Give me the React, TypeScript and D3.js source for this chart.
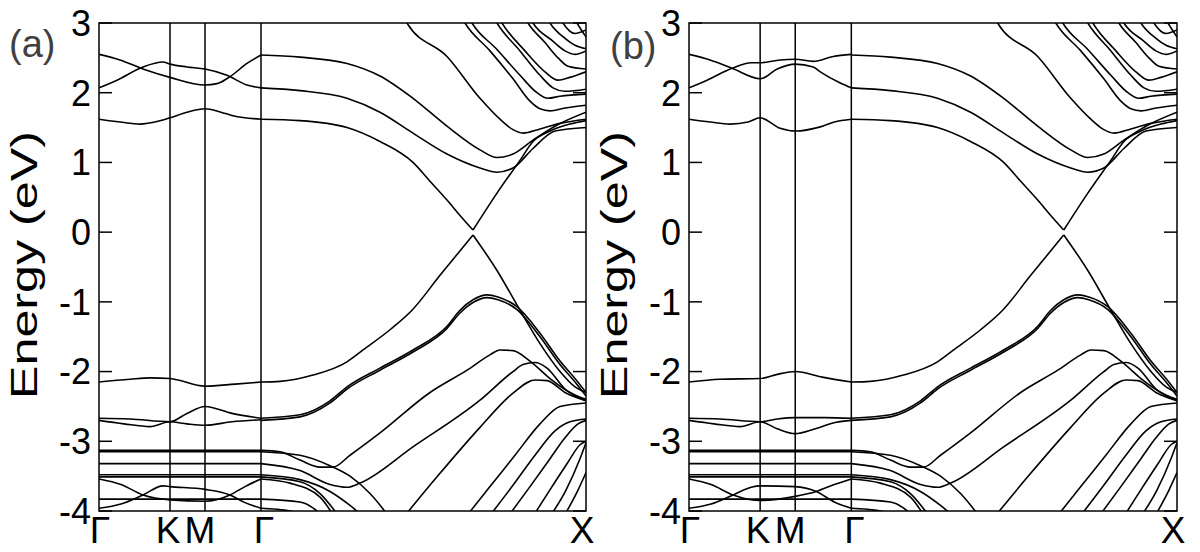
import React from "react";
import * as d3 from "d3";

type Pt = [number, number];

// high-symmetry points along the k-path (Γ-K-M-Γ-X)
const kTicks = [0, 0.71, 1.06, 1.62, 4.87];
const kLabels = ["Γ", "K", "M", "Γ", "X"];
const kLabelShift = [1, -2, -5, 3, -4];
const eTicks = [-4, -3, -2, -1, 0, 1, 2, 3];

// ---- Γ-K-M-Γ segment, panel (a)
const hexA: Pt[][] = [
  [[0, 1.62], [0.21, 1.58], [0.41, 1.55], [0.59, 1.59], [0.71, 1.64], [0.88, 1.72], [1.06, 1.77], [1.22, 1.72], [1.34, 1.67], [1.62, 1.62]],
  [[0, 2.55], [0.21, 2.47], [0.44, 2.34], [0.71, 2.22], [1.06, 2.11], [1.18, 2.13], [1.31, 2.23], [1.48, 2.42], [1.62, 2.54]],
  [[0, 2.07], [0.18, 2.18], [0.44, 2.37], [0.64, 2.44], [0.71, 2.41], [0.88, 2.37], [1.06, 2.34], [1.28, 2.25], [1.48, 2.11], [1.62, 2.07]],
  [[0, -2.15], [0.31, -2.11], [0.51, -2.09], [0.71, -2.1], [1.06, -2.21], [1.36, -2.18], [1.62, -2.15]],
  [[0, -2.67], [0.31, -2.68], [0.71, -2.72], [0.88, -2.6], [1.06, -2.5], [1.33, -2.6], [1.62, -2.67]],
  [[0, -2.7], [0.25, -2.75], [0.51, -2.79], [0.71, -2.72], [0.88, -2.75], [1.06, -2.77], [1.33, -2.72], [1.62, -2.69]],
  [[0, -3.54], [0.22, -3.62], [0.44, -3.77], [0.71, -3.84], [1.06, -3.86], [1.31, -3.77], [1.46, -3.65], [1.62, -3.54]],
  [[0, -3.96], [0.22, -3.9], [0.44, -3.77], [0.64, -3.64], [0.71, -3.65], [1.06, -3.69], [1.31, -3.77], [1.46, -3.88], [1.62, -3.96]],
];

// ---- Γ-K-M-Γ segment, panel (b)
const hexB: Pt[][] = [
  [[0, 1.62], [0.21, 1.58], [0.41, 1.55], [0.59, 1.58], [0.71, 1.64], [0.91, 1.49], [1.06, 1.45], [1.31, 1.51], [1.45, 1.58], [1.62, 1.62]],
  [[0, 2.55], [0.21, 2.47], [0.43, 2.35], [0.71, 2.2], [0.88, 2.34], [1.06, 2.41], [1.24, 2.37], [1.31, 2.3], [1.51, 2.14], [1.62, 2.07]],
  [[0, 2.07], [0.18, 2.18], [0.43, 2.35], [0.62, 2.43], [0.71, 2.43], [0.91, 2.47], [1.06, 2.48], [1.24, 2.45], [1.44, 2.52], [1.62, 2.55]],
  [[0, -2.15], [0.31, -2.11], [0.71, -2.1], [0.88, -2.04], [1.06, -2.0], [1.33, -2.08], [1.62, -2.15]],
  [[0, -2.67], [0.31, -2.68], [0.71, -2.72], [0.88, -2.68], [1.06, -2.66], [1.36, -2.66], [1.62, -2.67]],
  [[0, -2.7], [0.25, -2.75], [0.51, -2.79], [0.71, -2.72], [0.88, -2.82], [1.06, -2.89], [1.26, -2.82], [1.46, -2.73], [1.62, -2.7]],
  [[0, -3.54], [0.22, -3.62], [0.44, -3.77], [0.71, -3.85], [1.06, -3.79], [1.27, -3.72], [1.45, -3.62], [1.62, -3.54]],
  [[0, -3.96], [0.22, -3.9], [0.44, -3.77], [0.62, -3.66], [0.71, -3.64], [1.06, -3.65], [1.27, -3.72], [1.45, -3.87], [1.62, -3.96]],
];

// flat bands along Γ-K-M-Γ (both panels)
const flatBands = [-3.13, -3.15, -3.32, -3.48, -3.51, -3.83];

// ---- Γ-X segment (both panels)
const gxConduction: Pt[][] = [
  [[1.62, 1.62], [2.01, 1.6], [2.48, 1.5], [2.81, 1.3], [3.14, 1.0], [3.31, 0.73], [3.48, 0.46], [3.61, 0.24], [3.74, 0.03]],
  [[3.74, 0.03], [3.98, 0.56], [4.21, 1.03], [4.34, 1.3], [4.51, 1.45], [4.71, 1.55], [4.87, 1.6]],
  [[1.62, 2.07], [2.01, 2.03], [2.48, 1.92], [2.81, 1.72], [3.14, 1.42], [3.48, 1.12], [3.81, 0.92], [3.98, 0.86], [4.14, 0.92], [4.34, 1.2], [4.56, 1.45], [4.87, 1.5]],
  [[1.62, 2.54], [2.01, 2.51], [2.48, 2.42], [2.81, 2.24], [3.14, 1.92], [3.48, 1.52], [3.81, 1.18], [3.98, 1.07], [4.14, 1.12], [4.34, 1.32], [4.56, 1.52], [4.87, 1.72]],
  [[3.04, 3.1], [3.08, 3.0], [3.48, 2.52], [3.81, 1.92], [4.01, 1.62], [4.14, 1.47], [4.24, 1.42], [4.41, 1.48], [4.61, 1.56], [4.87, 1.62]],
  [[3.62, 3.1], [3.66, 3.0], [3.91, 2.6], [4.14, 2.2], [4.31, 1.88], [4.41, 1.77], [4.51, 1.74], [4.66, 1.78], [4.87, 1.82]],
  [[3.69, 3.1], [3.73, 3.0], [3.98, 2.62], [4.21, 2.25], [4.38, 2.0], [4.49, 1.92], [4.61, 1.95], [4.87, 1.98]],
  [[3.94, 3.1], [3.98, 3.0], [4.21, 2.6], [4.41, 2.25], [4.54, 2.07], [4.66, 2.02], [4.87, 2.05]],
  [[3.99, 3.1], [4.03, 3.0], [4.26, 2.6], [4.46, 2.3], [4.59, 2.18], [4.71, 2.22], [4.87, 2.3]],
  [[4.25, 3.1], [4.29, 3.0], [4.46, 2.72], [4.59, 2.5], [4.69, 2.38], [4.87, 2.34]],
  [[4.3, 3.1], [4.34, 3.0], [4.53, 2.75], [4.66, 2.6], [4.76, 2.55], [4.87, 2.6]],
  [[4.47, 3.1], [4.51, 3.0], [4.66, 2.78], [4.76, 2.68], [4.87, 2.63]],
  [[4.6, 3.1], [4.64, 3.0], [4.76, 2.85], [4.87, 2.9]],
  [[4.74, 3.1], [4.78, 3.0], [4.87, 2.8]],
];

const gxValence: Pt[][] = [
  [[1.62, -2.15], [1.81, -2.14], [2.14, -2.05], [2.48, -1.86], [2.64, -1.69], [2.91, -1.4], [3.13, -1.12], [3.41, -0.62], [3.74, -0.04]],
  [[3.74, -0.04], [3.98, -0.55], [4.21, -1.12], [4.41, -1.6], [4.61, -2.0], [4.76, -2.22], [4.87, -2.3]],
  [[1.62, -2.67], [2.01, -2.62], [2.31, -2.42], [2.48, -2.22], [2.81, -1.95], [3.14, -1.69], [3.48, -1.35], [3.61, -1.12], [3.74, -0.97], [3.88, -0.9], [3.99, -0.93], [4.18, -1.07], [4.41, -1.45], [4.61, -1.85], [4.76, -2.1], [4.87, -2.3]],
  [[1.62, -2.7], [2.01, -2.65], [2.31, -2.45], [2.48, -2.25], [2.81, -1.98], [3.14, -1.72], [3.48, -1.38], [3.61, -1.16], [3.74, -1.01], [3.88, -0.94], [3.99, -0.97], [4.18, -1.11], [4.41, -1.5], [4.61, -1.9], [4.76, -2.15], [4.87, -2.35]],
  [[1.62, -3.13], [1.81, -3.15], [2.01, -3.27], [2.21, -3.37], [2.34, -3.37], [2.51, -3.2], [2.81, -2.88], [3.31, -2.3], [3.68, -1.98], [3.91, -1.76], [4.01, -1.69], [4.14, -1.7], [4.31, -1.85], [4.51, -2.1], [4.71, -2.3], [4.87, -2.4]],
  [[1.62, -3.32], [2.01, -3.42], [2.31, -3.62], [2.48, -3.66], [2.61, -3.6], [3.14, -3.08], [3.81, -2.41], [4.14, -2.0], [4.24, -1.9], [4.36, -1.87], [4.48, -1.95], [4.66, -2.25], [4.87, -2.42]],
  [[1.62, -3.15], [2.01, -3.2], [2.31, -3.35], [2.51, -3.5], [2.71, -3.75], [2.91, -4.1]],
  [[1.62, -3.48], [2.01, -3.55], [2.31, -3.72], [2.51, -3.92], [2.66, -4.1]],
  [[1.62, -3.51], [2.01, -3.58], [2.21, -3.75], [2.41, -4.1]],
  [[1.62, -3.54], [1.91, -3.6], [2.21, -3.8], [2.36, -4.1]],
  [[1.62, -3.83], [2.01, -3.87], [2.26, -4.1]],
  [[1.62, -3.96], [1.91, -4.0], [2.11, -4.1]],
  [[3.04, -4.1], [3.38, -3.51], [3.81, -2.8], [4.14, -2.31], [4.36, -2.12], [4.48, -2.13], [4.66, -2.3], [4.87, -2.42]],
  [[3.66, -4.1], [3.91, -3.65], [4.16, -3.2], [4.41, -2.75], [4.61, -2.5], [4.87, -2.45]],
  [[3.89, -4.1], [4.13, -3.65], [4.36, -3.2], [4.56, -2.85], [4.71, -2.72], [4.87, -2.68]],
  [[4.08, -4.1], [4.31, -3.65], [4.51, -3.25], [4.66, -2.95], [4.79, -2.75], [4.87, -2.7]],
  [[4.33, -4.1], [4.53, -3.65], [4.69, -3.3], [4.81, -3.05], [4.87, -3.0]],
  [[4.5, -4.1], [4.67, -3.7], [4.81, -3.25], [4.87, -3.02]],
  [[4.64, -4.1], [4.79, -3.7], [4.87, -3.45]],
];

const W = 1200;
const H = 552;
const TOP = 23;
const BOTTOM = 511;
const FONT = "'Liberation Sans', Arial, Helvetica, sans-serif";

const panels = [
  { id: "a", label: "(a)", left: 99, right: 586, hex: hexA, labelX: 9, labelY: 57 },
  { id: "b", label: "(b)", left: 689, right: 1177, hex: hexB, labelX: 610, labelY: 59 },
];

function Panel({ p }: { p: (typeof panels)[number] }) {
  const x = d3.scaleLinear().domain([kTicks[0], kTicks[kTicks.length - 1]]).range([p.left, p.right]);
  const y = d3.scaleLinear().domain([-4, 3]).range([BOTTOM, TOP]);
  const line = d3
    .line<Pt>()
    .x((d) => x(d[0]))
    .y((d) => y(d[1]))
    .curve(d3.curveMonotoneX);
  const flat: Pt[][] = flatBands.map((e) => [
    [kTicks[0], e],
    [kTicks[3], e],
  ]);
  const bands = [...p.hex, ...flat, ...gxConduction, ...gxValence];
  const clipId = `clip-${p.id}`;
  return (
    <g>
      <defs>
        <clipPath id={clipId}>
          <rect x={p.left} y={TOP} width={p.right - p.left} height={BOTTOM - TOP} />
        </clipPath>
      </defs>
      <g clipPath={`url(#${clipId})`} fill="none" stroke="#000" strokeWidth={1.6} strokeLinejoin="round">
        {bands.map((b, i) => (
          <path key={i} d={line(b) || ""} />
        ))}
      </g>
      {kTicks.slice(1, -1).map((k, i) => (
        <line key={i} x1={x(k)} x2={x(k)} y1={TOP} y2={BOTTOM} stroke="#000" strokeWidth={1.5} />
      ))}
      {eTicks.map((e) => (
        <g key={e}>
          <line x1={p.left} x2={p.left + 13} y1={y(e)} y2={y(e)} stroke="#000" strokeWidth={1.5} />
          <line x1={p.right - 13} x2={p.right} y1={y(e)} y2={y(e)} stroke="#000" strokeWidth={1.5} />
          <text x={p.left - 8} y={y(e) + 12.8} textAnchor="end" fontSize={36} fontFamily={FONT} fill="#000">
            {String(e)}
          </text>
        </g>
      ))}
      <rect x={p.left} y={TOP} width={p.right - p.left} height={BOTTOM - TOP} fill="none" stroke="#000" strokeWidth={1.5} />
      {kTicks.map((k, i) => (
        <text key={i} x={x(k) + kLabelShift[i]} y={543} textAnchor="middle" fontSize={37} fontFamily={FONT} fill="#000">
          {kLabels[i]}
        </text>
      ))}
      <text
        transform={`translate(${p.left - 62},265) rotate(-90)`}
        textAnchor="middle"
        fontSize={36}
        fontFamily={FONT}
        textLength={268}
        lengthAdjust="spacingAndGlyphs"
        fill="#000"
      >
        Energy (eV)
      </text>
      <text x={p.labelX} y={p.labelY} fontSize={38} fontFamily={FONT} fill="#404040">
        {p.label}
      </text>
    </g>
  );
}

export default function App() {
  return (
    <svg width={W} height={H} viewBox={`0 0 ${W} ${H}`} style={{ position: "absolute", left: 0, top: 0, background: "#fff" }}>
      <rect width={W} height={H} fill="#fff" />
      {panels.map((p) => (
        <Panel key={p.id} p={p} />
      ))}
    </svg>
  );
}
